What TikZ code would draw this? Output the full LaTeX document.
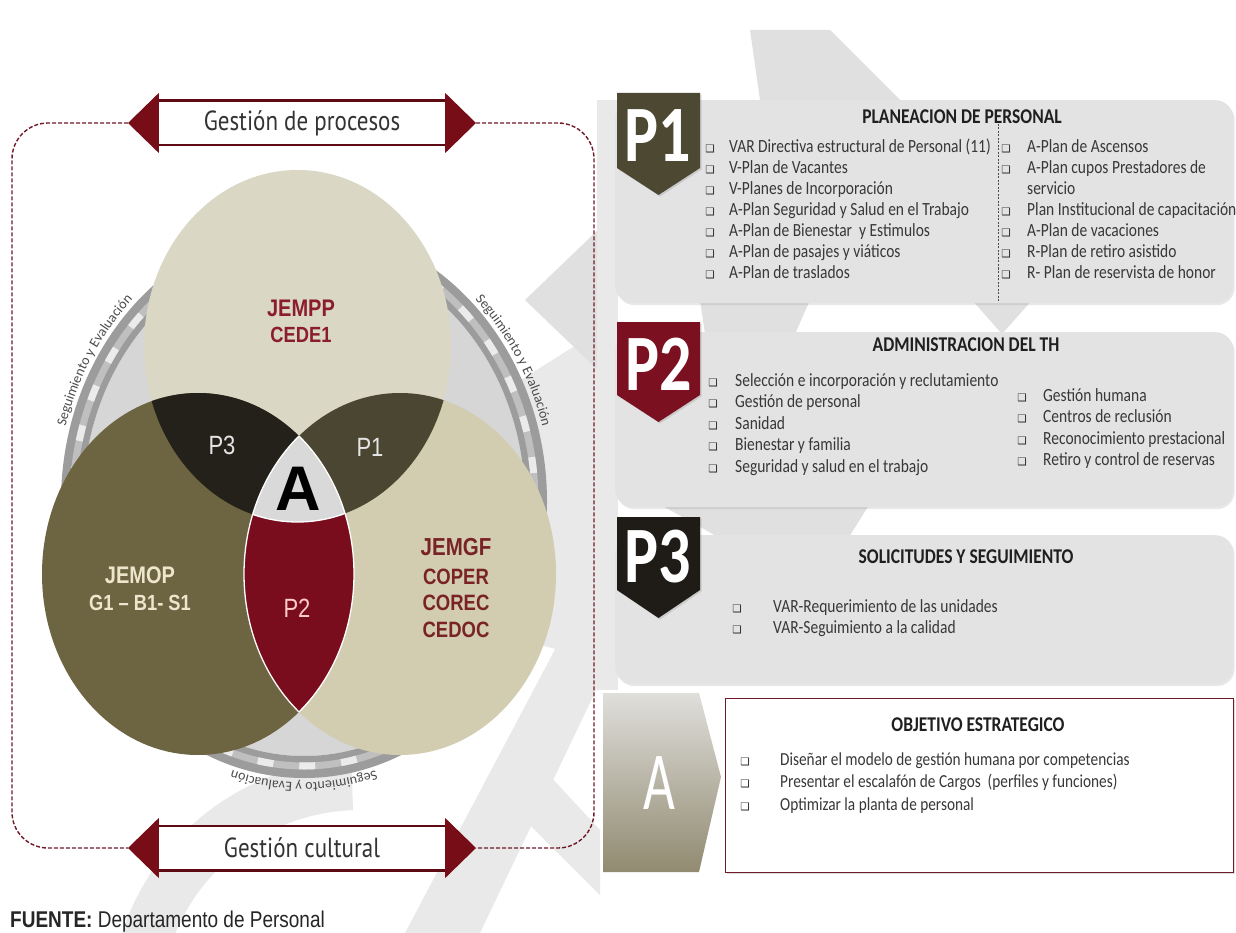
\documentclass[tikz,border=0pt]{standalone}
\usepackage{fontspec}
\setmainfont{Carlito}
\newfontfamily\arialf{Liberation Sans}
\newfontfamily\dejavu{DejaVu Sans}
\newfontfamily\ptsans{PT Sans}
\usetikzlibrary{decorations.text,shadows}

\definecolor{wine}{HTML}{760D17}
\definecolor{framered}{HTML}{6E1A28}
\definecolor{topc}{HTML}{DAD7C5}
\definecolor{rightc}{HTML}{D2CDB1}
\definecolor{leftc}{HTML}{6D6441}
\definecolor{pthree}{HTML}{24211A}
\definecolor{pone}{HTML}{4B4631}
\definecolor{ptwo}{HTML}{7A0D1D}
\definecolor{acol}{HTML}{D9D9D9}
\definecolor{panelc}{HTML}{E3E3E3}
\definecolor{wmark}{HTML}{E0E0E0}
\definecolor{wmlight}{HTML}{E9E9E9}
\definecolor{badgeone}{HTML}{4D4832}
\definecolor{badgetwo}{HTML}{7B1020}
\definecolor{badgethree}{HTML}{1F1C17}
\definecolor{labred}{HTML}{8B1E2B}
\definecolor{labbrown}{HTML}{7A2327}
\definecolor{cream}{HTML}{EEE6CC}
\definecolor{ringc}{HTML}{9C9C9C}
\definecolor{ringin}{HTML}{D6D6D6}

% vertically stretched text
\newcommand\tall[1]{\scalebox{1}[1.2]{#1}}
\newcommand\chk{\symbol{"2751}}
\newcommand\ringfont{\fontsize{14}{14}\selectfont}

\begin{document}
\begin{tikzpicture}[x=1pt,y=-1pt,
  wm/.style={fill=wmark},
  frame/.style={draw=framered, line width=1.4pt, dash pattern=on 4pt off 2pt, rounded corners=36pt},
  tri/.style={fill=wine},
  arrowbox/.style={fill=white, minimum width=286pt, minimum height=44pt, inner sep=0pt,
    text=black!80, font=\ptsans\fontsize{23}{23}\selectfont},
  boxline/.style={draw=wine!80!black, line width=2.6pt},
  lab/.style={inner sep=0pt, font=\arialf\bfseries\fontsize{20}{20}\selectfont},
  lens/.style={inner sep=0pt, font=\arialf\fontsize{22}{22}\selectfont},
  panelbox/.style={fill=panelc, rounded corners=18pt, inner sep=0pt, anchor=north west,
    drop shadow={opacity=0.18, shadow xshift=1.5pt, shadow yshift=-2pt}},
  head/.style={inner sep=0pt, text=black!88, font=\bfseries\fontsize{17.5}{18}\selectfont},
  item/.style={anchor=base west, inner sep=0pt, text=black!78, font=\fontsize{15.5}{16}\selectfont},
  chkbox/.style={anchor=base, inner sep=0pt, text=black!85, font=\dejavu\fontsize{10.5}{10.5}\selectfont},
  badgetxt/.style={inner sep=0pt, text=white, font=\bfseries\fontsize{64}{64}\selectfont},
  badgeshape/.style={drop shadow={opacity=0.25, shadow xshift=1.5pt, shadow yshift=-1.5pt}},
  ringlabel/.style={decorate, decoration={text along path, text align=center, raise=1.5pt,
    text color=black!70, text={|\ringfont|Seguimiento y Evaluación}}}
]
\useasboundingbox (0,0) rectangle (1236,933);
\fill[white] (0,0) rectangle (1236,933);

% ---------- background watermark ----------
\fill[wm] (750,30) -- (830,30) -- (900,100) -- (760,100) -- cycle;
\fill[wm] (972,300) -- (1032,300) -- (1002,334) -- cycle;
\fill[wm] (700,300) -- (810,300) -- (795,334) -- (705,334) -- cycle;
\fill[wm] (661,505) -- (869,505) -- (849,537) -- (718,537) -- cycle;
\fill[wmlight] (600,330) -- (505,390) -- (455,500) -- (520,640) -- (600,660) -- cycle;
\fill[wm] (600,228) -- (525,300) -- (600,372) -- cycle;
\fill[wmark!70] (597,100) rectangle (618,690);
% curved stroke of the emblem, lower left
\fill[wmlight] (360,1010) ++(190:250) arc[start angle=190, end angle=268, radius=250]
  -- ++(88:50) arc[start angle=268, end angle=190, radius=200] -- cycle;
% peaked band, lower right
\fill[wmlight] (560,640) -- (620,640) -- (480,933) -- (405,933) -- cycle;
\fill[wmlight] (505,800) -- (535,760) -- (600,830) -- (600,895) -- cycle;

% ---------- evaluation ring ----------
\fill[ringin] (304,502) ellipse [x radius=221, y radius=254];
\fill[ringc, even odd rule] (304,502) ellipse [x radius=243, y radius=276]
                           (304,502) ellipse [x radius=221, y radius=254];
\draw[line width=7pt, black!25] (304,502) ellipse [x radius=231, y radius=264];
\draw[line width=7pt, white!92!black, dash pattern=on 16pt off 26pt] (304,502) ellipse [x radius=231, y radius=264];
\path[ringlabel] (304,502) ++({246*cos(192)},{279*sin(192)})
   arc[start angle=192, end angle=230, x radius=246, y radius=279];
\path[ringlabel] (304,502) ++({246*cos(310)},{279*sin(310)})
   arc[start angle=310, end angle=348, x radius=246, y radius=279];
\path[ringlabel] (304,502) ++({246*cos(58)},{279*sin(58)})
   arc[start angle=58, end angle=122, x radius=246, y radius=279];

% ---------- three circles ----------
\def\topC{(297.5,346) ellipse [x radius=153.5, y radius=176]}
\def\leftC{(198,574) ellipse [x radius=156, y radius=181]}
\def\rightC{(400,574) ellipse [x radius=156, y radius=181]}
\fill[topc] \topC;
\fill[leftc] \leftC;
\fill[rightc] \rightC;
\begin{scope}
  \clip \topC;
  \fill[pthree] \leftC;
  \fill[pone] \rightC;
\end{scope}
\begin{scope}
  \clip \leftC;
  \fill[ptwo] \rightC;
\end{scope}
\begin{scope}
  \clip \topC; \clip \leftC;
  \fill[acol] \rightC;
\end{scope}
\begin{scope}
  \clip \leftC;
  \draw[white, line width=1.3pt] \rightC;
\end{scope}
\begin{scope}
  \clip \rightC;
  \draw[white, line width=1.3pt] \leftC;
\end{scope}
\begin{scope}
  \clip \leftC; \clip \rightC;
  \draw[white, line width=1.3pt] \topC;
\end{scope}

\node[lab, text=labred] (jempp) at (301,308) {\tall{JEMPP}};
\node[lab, text=labred, font=\arialf\bfseries\fontsize{18.3}{18}\selectfont] (cede) at (301,335) {\tall{CEDE1}};
\node[lens, text=white!90!black] (lp3) at (222,445) {\tall{P3}};
\node[lens, text=white!90!black] (lp1) at (370,447) {\tall{P1}};
\node[inner sep=0pt, font=\arialf\bfseries\fontsize{63}{63}\selectfont] (la) at (298,489) {A};
\node[lab, text=cream] (jemop) at (140,575) {\tall{JEMOP}};
\node[lab, text=cream, font=\arialf\bfseries\fontsize{18.3}{18}\selectfont] (gbs) at (140,603) {\tall{G1 – B1- S1}};
\node[lens, text=pink!80!white] (lp2) at (297,608) {\tall{P2}};
\node[lab, text=labbrown, font=\arialf\bfseries\fontsize{20.5}{20}\selectfont] (jemgf) at (456,547) {\tall{JEMGF}};
\node[lab, text=labbrown, font=\arialf\bfseries\fontsize{18.5}{18}\selectfont] (coper) at (456,577) {\tall{COPER}};
\node[lab, text=labbrown, font=\arialf\bfseries\fontsize{18.5}{18}\selectfont] (corec) at (456,603) {\tall{COREC}};
\node[lab, text=labbrown, font=\arialf\bfseries\fontsize{18.5}{18}\selectfont] (cedoc) at (456,630) {\tall{CEDOC}};

% ---------- process arrows and dashed frame ----------
\coordinate (procL) at (128,123);
\coordinate (procR) at (476,123);
\coordinate (cultL) at (128,848);
\coordinate (cultR) at (476,848);
\draw[frame] (procL) -- (12,123) -- (12,848) -- (cultL);
\draw[frame] (procR) -- (594,123) -- (594,848) -- (cultR);

\node[arrowbox] (proc) at (302,123) {\tall{Gestión de procesos}};
\draw[boxline] (proc.north west) -- (proc.north east);
\draw[boxline] (proc.south west) -- (proc.south east);
\fill[tri] (procL) -- (proc.west |- 0,93) -- (proc.west |- 0,153) -- cycle;
\fill[tri] (procR) -- (proc.east |- 0,93) -- (proc.east |- 0,153) -- cycle;

\node[arrowbox] (cult) at (302,848) {\tall{Gestión cultural}};
\draw[boxline] (cult.north west) -- (cult.north east);
\draw[boxline] (cult.south west) -- (cult.south east);
\fill[tri] (cultL) -- (cult.west |- 0,818) -- (cult.west |- 0,878) -- cycle;
\fill[tri] (cultR) -- (cult.east |- 0,818) -- (cult.east |- 0,878) -- cycle;

\node[anchor=base west, inner sep=0pt, font=\arialf\fontsize{19}{19}\selectfont, text=black!85]
  (fuente) at (10,927) {\tall{\textbf{FUENTE:} Departamento de Personal}};

% ---------- P1 ----------
\node[panelbox, minimum width=618pt, minimum height=203pt] (pan1) at (615,100) {};
\path[fill=badgeone, badgeshape] (617,93) -- (700,93) -- (700,168) -- (658.5,195) -- (617,168) -- cycle;
\node[badgetxt] (b1) at (658,136) {\scalebox{1}[1.25]{P1}};
\node[head] (h1) at (962,117) {\tall{PLANEACION DE PERSONAL}};
\draw[black!70, line width=0.9pt, dash pattern=on 2pt off 1.5pt] (998,124) -- (998,302);
\foreach \t [count=\i from 0] in {{VAR Directiva estructural de Personal (11)},{V-Plan de Vacantes},
  {V-Planes de Incorporación},{A-Plan Seguridad y Salud en el Trabajo},{A-Plan de Bienestar\ \ y Estimulos},
  {A-Plan de pasajes y viáticos},{A-Plan de traslados}}{
  \pgfmathsetmacro\yy{148+20.9*\i+5}
  \node[chkbox] (p1lb-\i) at (710,\yy) {\chk};
  \node[item] (p1l-\i) at (729,\yy) {\tall{\t}};
}
\foreach \r/\t in {0/{A-Plan de Ascensos},1/{A-Plan cupos Prestadores de},3/{Plan Institucional de capacitación},
  4/{A-Plan de vacaciones},5/{R-Plan de retiro asistido},6/{R- Plan de reservista de honor}}{
  \pgfmathsetmacro\yy{148+20.9*\r+5}
  \node[chkbox] (p1rb-\r) at (1006,\yy) {\chk};
  \node[item] (p1r-\r) at (1027,\yy) {\tall{\t}};
}
\node[item] (p1r-2) at (1027,148+20.9*2+5) {\tall{servicio}};

% ---------- P2 ----------
\node[panelbox, minimum width=618pt, minimum height=175pt] (pan2) at (615,332) {};
\path[fill=badgetwo, badgeshape] (617,322) -- (700,322) -- (700,395) -- (658.5,422) -- (617,395) -- cycle;
\node[badgetxt] (b2) at (659,364) {\scalebox{1}[1.25]{P2}};
\node[head] (h2) at (966,345) {\tall{ADMINISTRACION DEL TH}};
\foreach \t [count=\i from 0] in {{Selección e incorporación y reclutamiento},{Gestión de personal},
  {Sanidad},{Bienestar y familia},{Seguridad y salud en el trabajo}}{
  \pgfmathsetmacro\yy{381+21.5*\i+5}
  \node[chkbox] (p2lb-\i) at (713,\yy) {\chk};
  \node[item] (p2l-\i) at (735,\yy) {\tall{\t}};
}
\foreach \t [count=\i from 0] in {{Gestión humana},{Centros de reclusión},
  {Reconocimiento prestacional},{Retiro y control de reservas}}{
  \pgfmathsetmacro\yy{396+21.5*\i+5}
  \node[chkbox] (p2rb-\i) at (1022,\yy) {\chk};
  \node[item] (p2r-\i) at (1043,\yy) {\tall{\t}};
}

% ---------- P3 ----------
\node[panelbox, minimum width=618pt, minimum height=149pt] (pan3) at (615,535) {};
\path[fill=badgethree, badgeshape] (617,517) -- (700,517) -- (700,590) -- (658.5,618) -- (617,590) -- cycle;
\node[badgetxt] (b3) at (658,557) {\scalebox{1}[1.25]{P3}};
\node[head] (h3) at (966,557) {\tall{SOLICITUDES Y SEGUIMIENTO}};
\foreach \t [count=\i from 0] in {{VAR-Requerimiento de las unidades},{VAR-Seguimiento a la calidad}}{
  \pgfmathsetmacro\yy{607+21*\i+5}
  \node[chkbox] (p3b-\i) at (737,\yy) {\chk};
  \node[item] (p3-\i) at (773,\yy) {\tall{\t}};
}

% ---------- A : strategic objective ----------
\shade[top color=white!80!topc!90!black, middle color=topc!80!black, bottom color=leftc!75!white]
  (603,693) -- (699,693) -- (721,777) -- (699,872) -- (603,872) -- cycle;
\node[inner sep=0pt, text=white, font=\fontsize{55}{55}\selectfont] (ba) at (659,783) {\scalebox{1}[1.5]{A}};
\node[draw=framered, fill=white, line width=1.2pt, minimum width=508pt, minimum height=174pt,
  anchor=north west, inner sep=0pt, drop shadow={opacity=0.25, shadow xshift=1.5pt, shadow yshift=-1.5pt}]
  (obj) at (725,698) {};
\node[head] (h4) at (978,725) {\tall{OBJETIVO ESTRATEGICO}};
\foreach \t [count=\i from 0] in {{Diseñar el modelo de gestión humana por competencias},
  {Presentar el escalafón de Cargos\ \ (perfiles y funciones)},{Optimizar la planta de personal}}{
  \pgfmathsetmacro\yy{760+22.5*\i+5}
  \node[chkbox] (p4b-\i) at (745,\yy) {\chk};
  \node[item, font=\fontsize{15.3}{16}\selectfont] (p4-\i) at (780,\yy) {\tall{\t}};
}
\end{tikzpicture}
\end{document}
